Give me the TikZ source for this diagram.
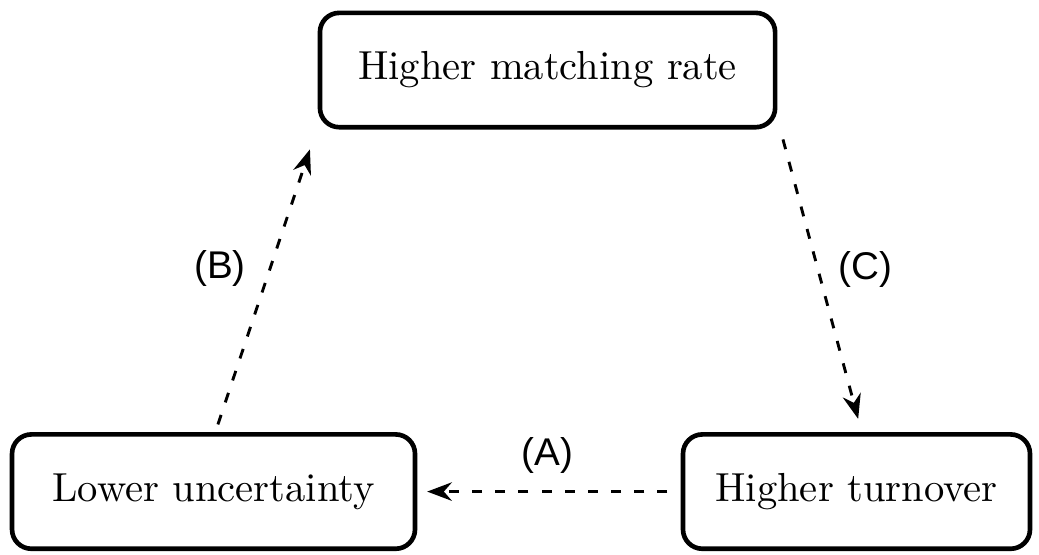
\documentclass[tikz,border=0pt]{standalone}
\usepackage{fontspec}
\newfontfamily\lblfont{Liberation Sans}
\usepackage{tikz}
\usetikzlibrary{arrows.meta,calc,positioning}

\begin{document}
\begin{tikzpicture}[>=Stealth,
  box/.style={draw,line width=1.2pt,rounded corners=5pt,align=center,minimum height=1.04cm,
    font=\fontsize{10.5}{12}\selectfont},
  dep/.style={->,line width=0.75pt,dash pattern=on 2.6pt off 3.4pt},
  lbl/.style={font=\lblfont}]
  \useasboundingbox (0,0) rectangle (9.45,5.039);
  \node[box,minimum width=4.14cm] (hm) at (4.98,4.402) {Higher matching rate};
  \node[box,minimum width=3.665cm] (lu) at (1.942,0.568) {Lower uncertainty};
  \node[box,minimum width=3.156cm] (ht) at (7.79,0.568) {Higher turnover};
  \draw[dep] ([xshift=-0.12cm]ht.west) -- node[lbl,yshift=0.33cm] {(A)} ([xshift=0.09cm]lu.east);
  \draw[dep] ([xshift=0.04cm,yshift=0.07cm]lu.north) -- node[lbl,xshift=-0.40cm,yshift=0.17cm] {(B)} ([xshift=-0.07cm,yshift=-0.18cm]hm.south west);
  \draw[dep] ([xshift=0.05cm,yshift=-0.09cm]hm.south east) -- node[lbl,xshift=0.41cm,yshift=0.09cm] {(C)} ([xshift=0.015cm,yshift=0.12cm]ht.north);
\end{tikzpicture}
\end{document}
